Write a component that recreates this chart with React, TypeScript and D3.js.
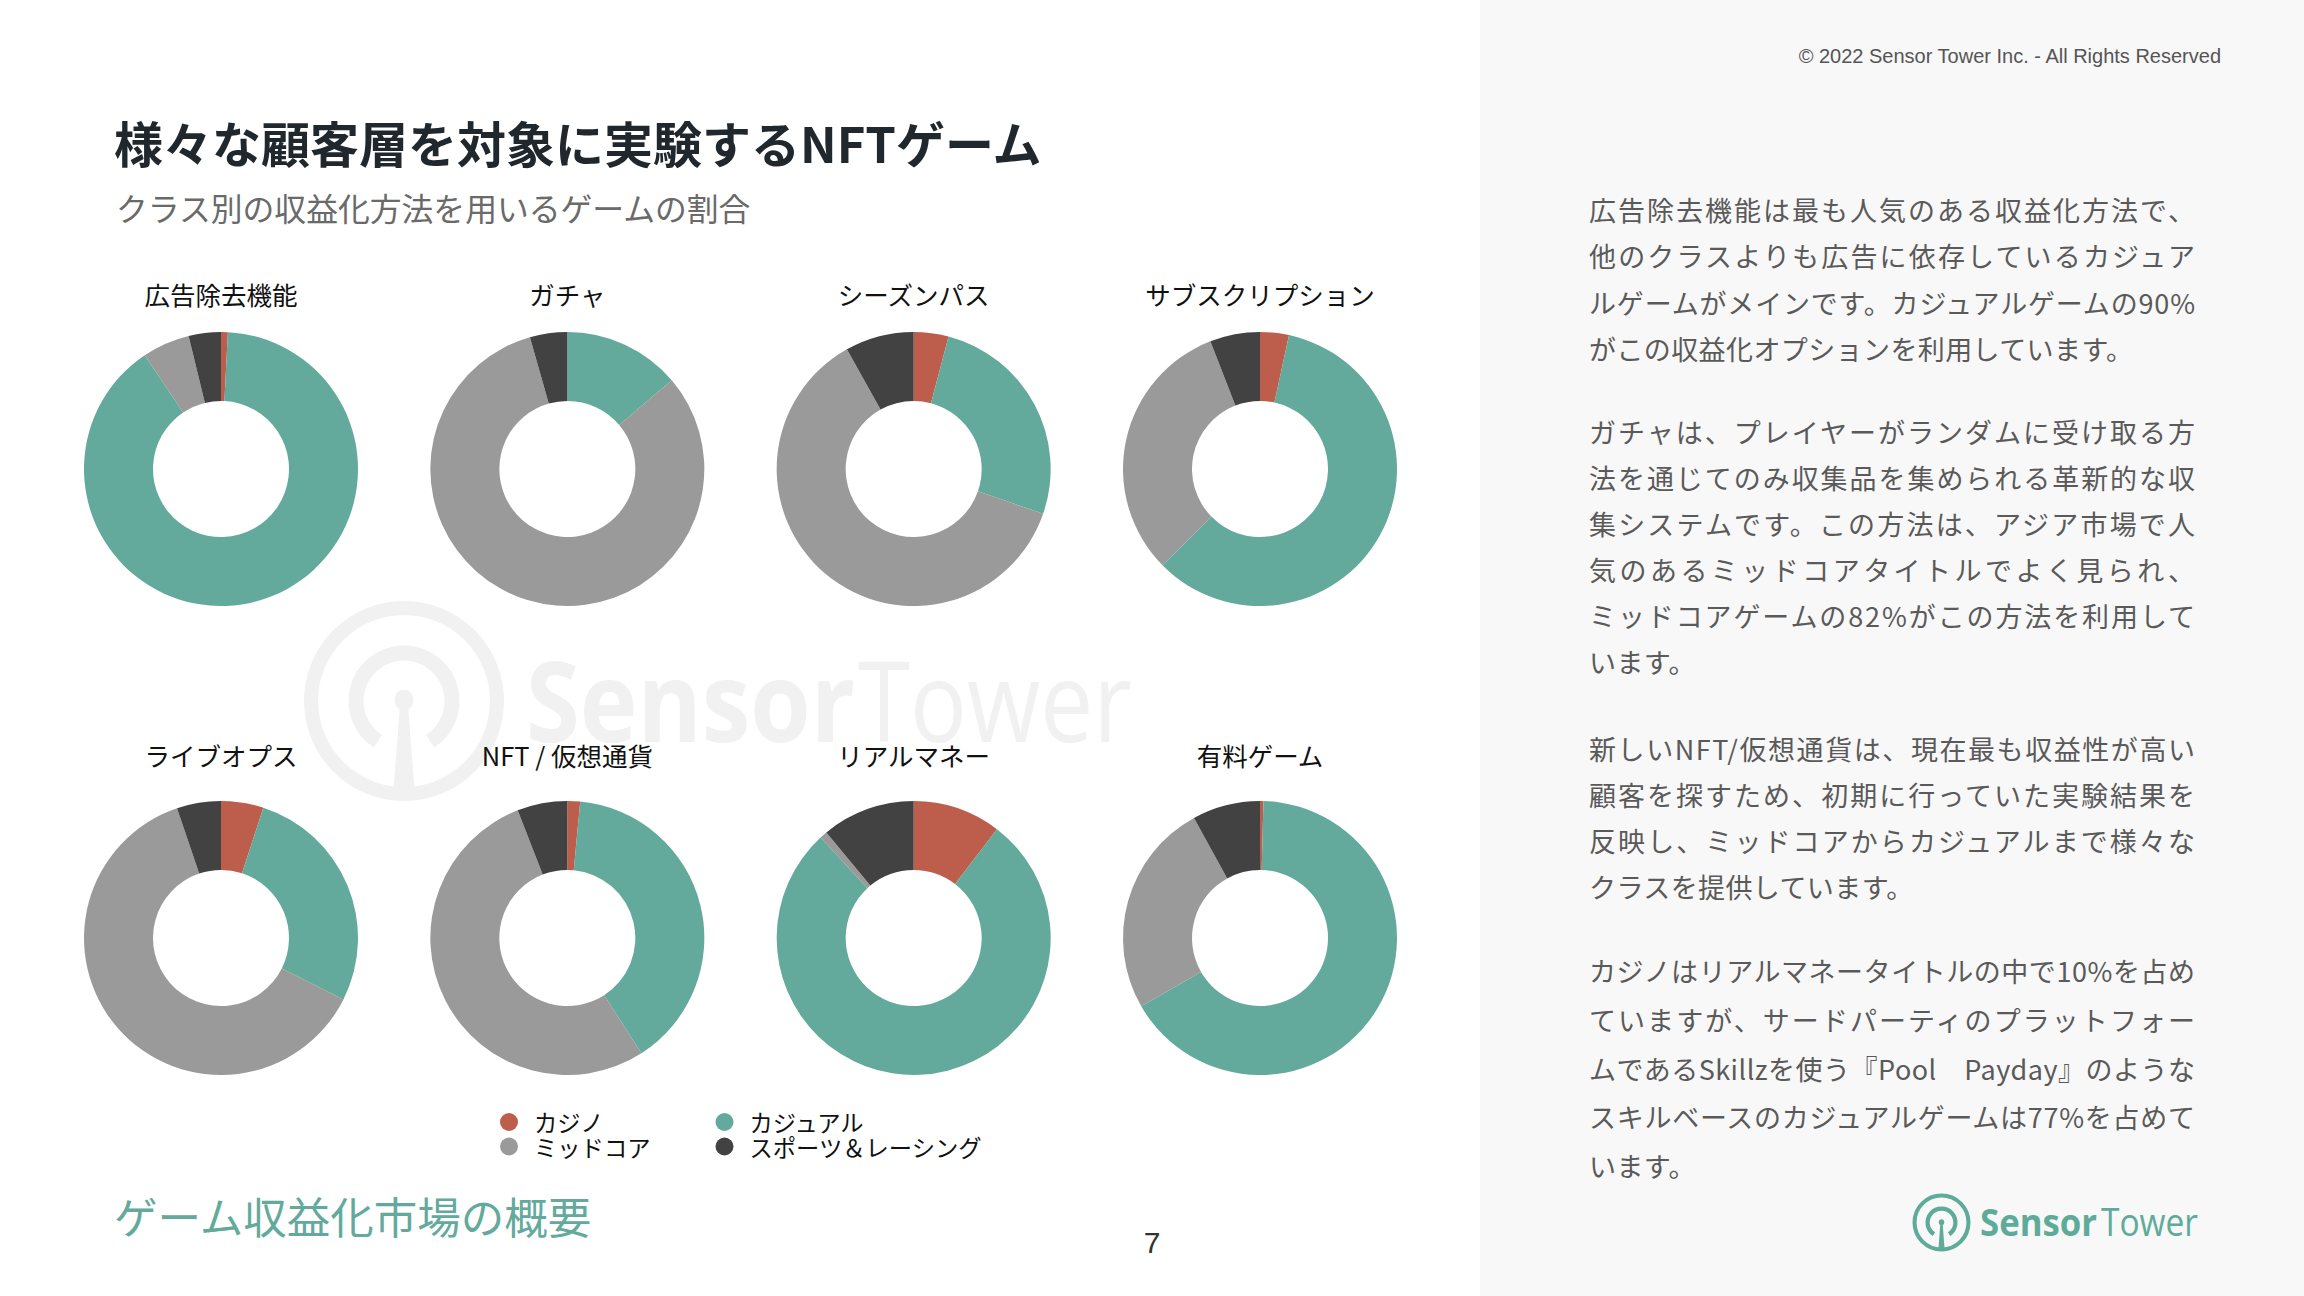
import React from "react";
import * as d3 from "d3";

// ---------- data ----------
const categories = [
  "広告除去機能",
  "ガチャ",
  "シーズンパス",
  "サブスクリプション",
  "ライブオプス",
  "NFT / 仮想通貨",
  "リアルマネー",
  "有料ゲーム",
];
const classes = ["カジノ", "カジュアル", "ミッドコア", "スポーツ＆レーシング"];
const casino = [0.8, 0, 4.1, 3.4, 5.0, 1.5, 10.4, 0.4];
const casual = [89.8, 13.8, 26.2, 59.2, 27.4, 39.4, 77.7, 66.3];
const midcore = [5.6, 81.8, 61.6, 31.5, 62.4, 53.2, 0.9, 25.3];
const sports = [3.8, 4.4, 8.1, 5.9, 5.2, 5.9, 11.0, 8.0];

const title = "様々な顧客層を対象に実験するNFTゲーム";
const subtitle = "クラス別の収益化方法を用いるゲームの割合";
const footer = "ゲーム収益化市場の概要";
const pageNumber = "7";
const copyright = "© 2022 Sensor Tower Inc. - All Rights Reserved";

const paragraphs = [
  [
    "広告除去機能は最も人気のある収益化方法で、",
    "他のクラスよりも広告に依存しているカジュア",
    "ルゲームがメインです。カジュアルゲームの90%",
    "がこの収益化オプションを利用しています。",
  ],
  [
    "ガチャは、プレイヤーがランダムに受け取る方",
    "法を通じてのみ収集品を集められる革新的な収",
    "集システムです。この方法は、アジア市場で人",
    "気のあるミッドコアタイトルでよく見られ、",
    "ミッドコアゲームの82%がこの方法を利用して",
    "います。",
  ],
  [
    "新しいNFT/仮想通貨は、現在最も収益性が高い",
    "顧客を探すため、初期に行っていた実験結果を",
    "反映し、ミッドコアからカジュアルまで様々な",
    "クラスを提供しています。",
  ],
  [
    "カジノはリアルマネータイトルの中で10%を占め",
    "ていますが、サードパーティのプラットフォー",
    "ムであるSkillzを使う『Pool　Payday』のような",
    "スキルベースのカジュアルゲームは77%を占めて",
    "います。",
  ],
];

// ---------- styling / layout ----------
const W = 2304;
const H = 1296;
const colors = ["#bd5e4d", "#63aa9c", "#9a9a9a", "#424242"];
const teal = "#63aa9c";
const JP = "'Noto Sans CJK JP', 'Noto Sans', sans-serif";
const LAT = "'Liberation Sans', Arial, sans-serif";
const OS = "'Open Sans', 'Noto Sans', sans-serif";

const colX = d3.scaleLinear().domain([0, 3]).range([221, 1260]);
const rowY = d3.scaleLinear().domain([0, 1]).range([469, 938]);
const labelOffset = -164;
const labelOffset2 = -172;

const pie = d3.pie<number>().sort(null).value((d) => d);
const arc = d3.arc<d3.PieArcDatum<number>>().innerRadius(68).outerRadius(137);

const paraStart = [221, 443, 760, 982];
const paraLH = [46.3, 46, 46, 48.8];
const textX = 1589;
const textW = 606;

const legendX = [509, 724.5];
const legendY = [1122, 1146.5];

function Logo({ cx, cy, s, color }: { cx: number; cy: number; s: number; color: string }) {
  const deg = Math.PI / 180;
  const inner = d3
    .arc()
    .innerRadius(40.5 * s)
    .outerRadius(55.5 * s)
    .startAngle(213 * deg)
    .endAngle(507 * deg);
  return (
    <g transform={`translate(${cx},${cy})`} fill={color}>
      <circle r={93 * s} fill="none" stroke={color} strokeWidth={14 * s} />
      <path d={(inner as any)({}) as string} />
      <ellipse cx={0} cy={-1 * s} rx={9.5 * s} ry={10.5 * s} />
      <path
        d={`M${-4 * s},${4 * s} L${4 * s},${4 * s} L${10.5 * s},${89 * s} L${-10.5 * s},${89 * s} Z`}
      />
    </g>
  );
}

export default function App() {
  const series = categories.map((_, i) => [casino[i], casual[i], midcore[i], sports[i]]);
  return (
    <svg
      width={W}
      height={H}
      viewBox={`0 0 ${W} ${H}`}
      style={{ position: "absolute", left: 0, top: 0, display: "block" }}
    >
      <rect x={0} y={0} width={W} height={H} fill="#ffffff" />
      <rect x={1480} y={0} width={W - 1480} height={H} fill="#f8f8f8" />

      {/* watermark */}
      <g>
        <Logo cx={404} cy={701} s={1} color="#f1f1f1" />
        <text
          x={526}
          y={742}
          fontFamily={OS}
          fontWeight={700}
          fontSize={112}
          fill="#f1f1f1"
          textLength={329}
          lengthAdjust="spacingAndGlyphs"
        >
          Sensor
        </text>
        <text
          x={858}
          y={742}
          fontFamily={OS}
          fontWeight={400}
          fontSize={112}
          fill="#f1f1f1"
          textLength={274}
          lengthAdjust="spacingAndGlyphs"
        >
          Tower
        </text>
      </g>

      {/* title */}
      <text x={114} y={163} fontFamily={JP} fontWeight={700} fontSize={49} fill="#20282e">
        {title}
      </text>
      <text x={116} y={221} fontFamily={JP} fontSize={31.8} fill="#6a6a6a">
        {subtitle}
      </text>

      {/* donuts */}
      {series.map((vals, i) => {
        const cx = colX(i % 4);
        const row = Math.floor(i / 4);
        const cy = rowY(row);
        const arcs = pie(vals);
        return (
          <g key={categories[i]}>
            <text
              x={cx}
              y={cy + (row === 0 ? labelOffset : labelOffset2)}
              textAnchor="middle"
              fontFamily={JP}
              fontSize={25.5}
              fill="#111"
            >
              {categories[i]}
            </text>
            <g transform={`translate(${cx},${cy})`}>
              {arcs.map((a, j) =>
                a.value > 0 ? <path key={j} d={arc(a) as string} fill={colors[j]} /> : null
              )}
            </g>
          </g>
        );
      })}

      {/* legend */}
      {classes.map((c, k) => {
        const cxL = legendX[k % 2];
        const cyL = legendY[Math.floor(k / 2)];
        return (
          <g key={c}>
            <circle cx={cxL} cy={cyL} r={9} fill={colors[k]} />
            <text x={cxL + 25} y={cyL + 10} fontFamily={JP} fontSize={23.3} fill="#111">
              {c}
            </text>
          </g>
        );
      })}

      {/* footer */}
      <text x={114} y={1234} fontFamily={JP} fontSize={43.5} fill={teal}>
        {footer}
      </text>
      <text x={1152} y={1253} textAnchor="middle" fontFamily={LAT} fontSize={30} fill="#333">
        {pageNumber}
      </text>

      {/* right panel */}
      <text x={2221} y={63} textAnchor="end" fontFamily={LAT} fontSize={20} fill="#555">
        {copyright}
      </text>
      {paragraphs.map((lines, p) =>
        lines.map((line, l) => {
          const last = l === lines.length - 1;
          const y = paraStart[p] + l * paraLH[p];
          return last ? (
            <text
              key={`${p}-${l}`}
              x={textX}
              y={y}
              fontFamily={JP}
              fontSize={27}
              letterSpacing={0.4}
              fill="#5a5a5a"
            >
              {line}
            </text>
          ) : (
            <text
              key={`${p}-${l}`}
              x={textX}
              y={y}
              fontFamily={JP}
              fontSize={27}
              fill="#5a5a5a"
              textLength={textW}
              lengthAdjust="spacing"
            >
              {line}
            </text>
          );
        })
      )}

      {/* bottom-right logo */}
      <Logo cx={1941.5} cy={1222.5} s={0.29} color="#5fab9a" />
      <text
        x={1980}
        y={1236}
        fontFamily={OS}
        fontWeight={700}
        fontSize={38}
        fill="#5fab9a"
        textLength={117}
        lengthAdjust="spacingAndGlyphs"
      >
        Sensor
      </text>
      <text
        x={2101}
        y={1236}
        fontFamily={OS}
        fontWeight={400}
        fontSize={38}
        fill="#5fab9a"
        textLength={97}
        lengthAdjust="spacingAndGlyphs"
      >
        Tower
      </text>
    </svg>
  );
}
